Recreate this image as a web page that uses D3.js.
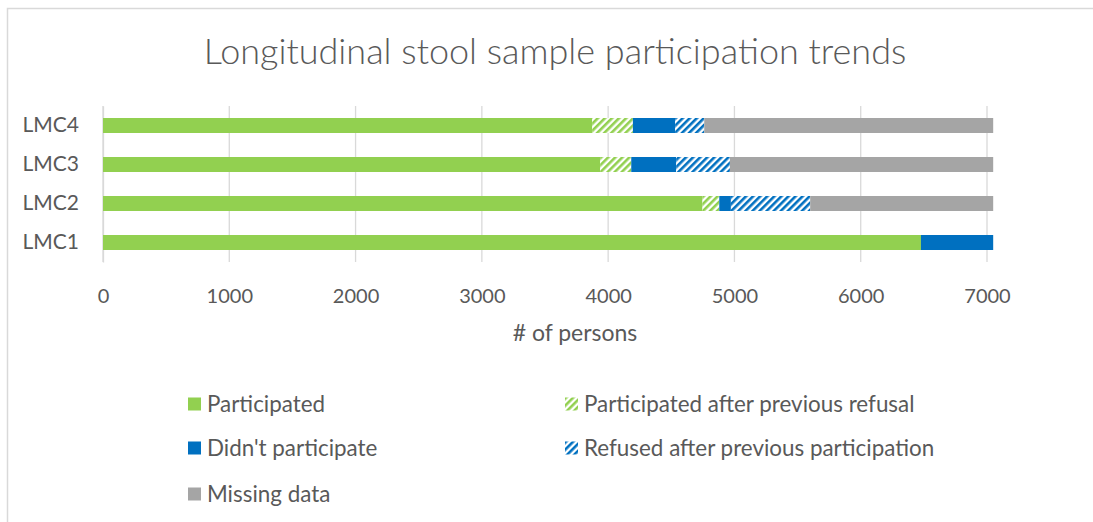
<!DOCTYPE html>
<html>
<head>
<meta charset="utf-8">
<title>Longitudinal stool sample participation trends</title>
<script src="https://cdnjs.cloudflare.com/ajax/libs/d3/7.8.5/d3.min.js"></script>
<style>
body { margin: 0; background: #fff; overflow: hidden; }
svg { display: block; }
text { font-family: Lato, "Open Sans", sans-serif; fill: #595959; }
.title { font-size: 36px; text-anchor: middle; font-weight: 300; }
.tick text { font-size: 20px; }
.label { font-size: 23px; text-anchor: middle; }
.legend text { font-size: 22.4px; }
</style>
</head>
<body>
<svg width="1093" height="522"></svg>
<script>
// values
var categories = ["LMC1", "LMC2", "LMC3", "LMC4"];
var seriesNames = ["Participated", "Participated after previous refusal",
  "Didn't participate", "Refused after previous participation", "Missing data"];
var participated      = [6477, 4747, 3937, 3874];
var participatedAfter = [0, 133, 246, 322];
var didntParticipate  = [572, 92, 356, 335];
var refusedAfter      = [0, 628, 425, 230];
var missingData       = [0, 1449, 2085, 2288];
var xTicks = [0, 1000, 2000, 3000, 4000, 5000, 6000, 7000];

var colors = ["#92d050", "#92d050", "#0070c0", "#0070c0", "#a5a5a5"];
var hatched = [false, true, false, true, false];

var rows = categories.map(function (c, i) {
  return { cat: c, s0: participated[i], s1: participatedAfter[i], s2: didntParticipate[i],
           s3: refusedAfter[i], s4: missingData[i] };
});

var svg = d3.select("svg");
var pArea = [103, 106, 1040, 262];

// chart frame: only top and left edges are in the picture
svg.append("path")
  .attr("d", "M7.5,530V8.5H1100")
  .attr("fill", "none").attr("stroke", "#d9d9d9").attr("stroke-width", 1.5);

var defs = svg.append("defs");
colors.forEach(function (c, i) {
  if (!hatched[i]) return;
  var p = defs.append("pattern")
    .attr("id", "hatch" + i)
    .attr("patternUnits", "userSpaceOnUse")
    .attr("width", 5).attr("height", 5)
    .attr("patternTransform", "rotate(45)");
  p.append("rect").attr("width", 5).attr("height", 5).attr("fill", "#fff");
  p.append("rect").attr("width", 2.6).attr("height", 5).attr("fill", c);
});
function fillFor(i) { return hatched[i] ? "url(#hatch" + i + ")" : colors[i]; }

var x = d3.scaleLinear().domain([0, 7000]).range([pArea[0], 987]);
var y = d3.scaleBand().domain(categories.slice().reverse())
  .range([pArea[1], pArea[3]]).paddingInner(24 / 39).paddingOuter(12 / 39);

svg.append("text")
  .attr("class", "title")
  .attr("x", 555).attr("y", 64)
  .text("Longitudinal stool sample participation trends");

// gridlines
svg.append("g")
  .selectAll("line")
  .data(xTicks)
  .enter().append("line")
  .attr("x1", function (d) { return x(d); })
  .attr("x2", function (d) { return x(d); })
  .attr("y1", pArea[1]).attr("y2", pArea[3])
  .attr("stroke", "#d9d9d9").attr("stroke-width", 1.3);

var xAxis = svg.append("g")
  .attr("transform", "translate(0," + pArea[3] + ")")
  .call(d3.axisBottom(x).tickValues(xTicks).tickFormat(d3.format("d")).tickSize(0).tickPadding(27));
xAxis.select(".domain").remove();

var yAxis = svg.append("g")
  .attr("transform", "translate(" + pArea[0] + ",0)")
  .call(d3.axisLeft(y).tickSize(0).tickPadding(24));
yAxis.select(".domain").attr("stroke", "#d9d9d9").attr("stroke-width", 1.3);
yAxis.selectAll("text").style("font-size", "21px");

svg.append("text")
  .attr("class", "label")
  .attr("x", 575).attr("y", 341)
  .text("# of persons");

var stack = d3.stack().keys(["s0", "s1", "s2", "s3", "s4"]);
var layers = stack(rows);

svg.append("g")
  .selectAll("g")
  .data(layers)
  .enter().append("g")
  .attr("fill", function (d, i) { return fillFor(i); })
  .selectAll("rect")
  .data(function (d) { return d; })
  .enter().append("rect")
  .attr("x", function (d) { return x(d[0]); })
  .attr("y", function (d) { return y(d.data.cat); })
  .attr("width", function (d) { return x(d[1]) - x(d[0]); })
  .attr("height", y.bandwidth());

// legend
var legendPos = [[188, 404], [565, 404], [188, 448], [565, 448], [188, 494]];
var legend = svg.append("g").attr("class", "legend")
  .selectAll("g")
  .data(seriesNames)
  .enter().append("g")
  .attr("transform", function (d, i) { return "translate(" + legendPos[i][0] + "," + legendPos[i][1] + ")"; });
legend.append("rect")
  .attr("x", 0).attr("y", -6.5)
  .attr("width", 13).attr("height", 13)
  .attr("fill", function (d, i) { return fillFor(i); });
legend.append("text")
  .attr("x", 19).attr("y", 0)
  .attr("dy", "0.35em")
  .text(function (d) { return d; });
</script>
</body>
</html>
